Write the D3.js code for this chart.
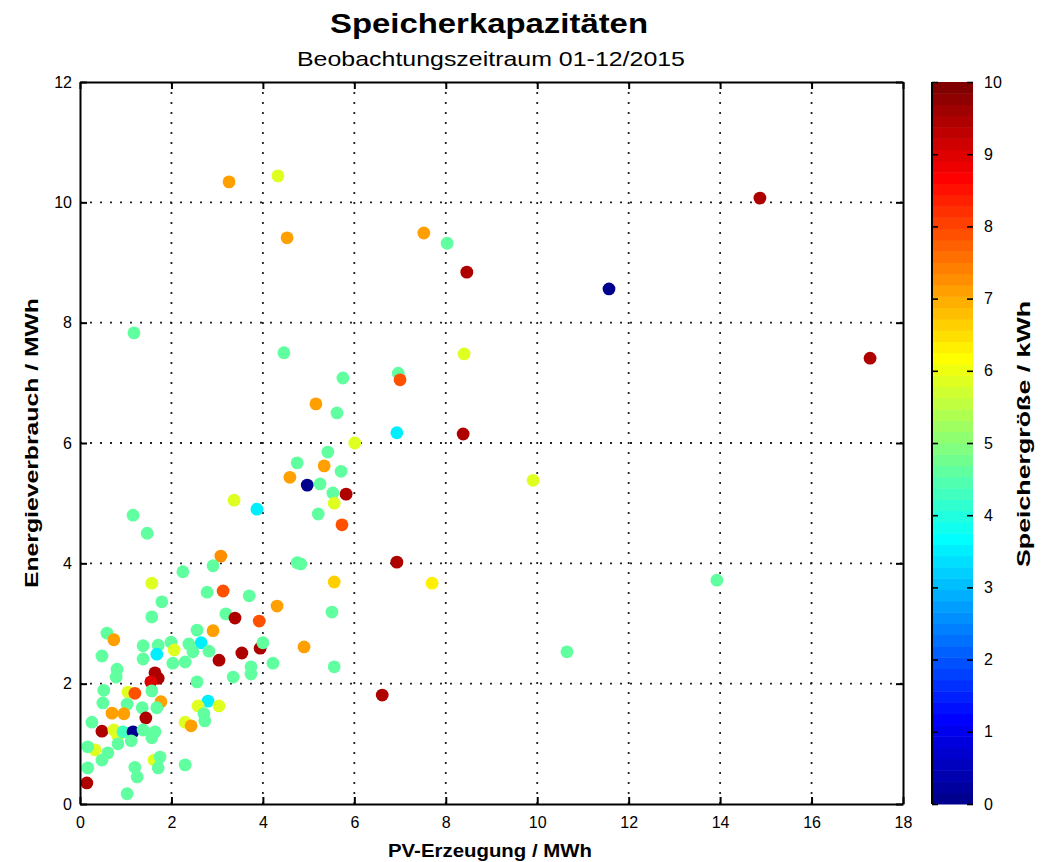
<!DOCTYPE html>
<html>
<head>
<meta charset="utf-8">
<script src="https://cdn.jsdelivr.net/npm/d3@7"></script>
<style>
  body { margin: 0; background: #fff; }
  svg { display: block; }
  text { font-family: "Liberation Sans", Arial, Helvetica, sans-serif; fill: #000; }
</style>
</head>
<body>
<svg id="chart" width="1048" height="862"></svg>
<script>
// PV generation (MWh) per installation
const pvErzeugung = [
  3.26, 4.33, 4.53, 7.52, 8.03, 8.46, 14.87, 11.57, 17.28, 1.18,
  4.46, 8.40, 5.75, 6.96, 7.00, 5.16, 5.62, 6.93, 8.38, 6.01,
  5.42, 4.75, 5.34, 5.71, 4.59, 4.97, 5.25, 5.53, 5.82, 5.56,
  5.21, 5.73, 3.37, 3.87, 4.75, 4.83, 6.93, 3.08, 2.91, 2.25,
  5.56, 5.51, 5.56, 4.90, 6.61, 4.31, 3.13, 2.78, 3.70, 3.19,
  3.39, 3.92, 2.56, 2.91, 2.65, 2.38, 2.47, 2.30, 2.82, 3.04,
  3.54, 3.94, 4.00, 4.22, 3.74, 3.74, 3.35, 2.56, 2.80, 2.58,
  3.04, 2.71, 2.73, 2.30, 2.43, 2.30, 1.57, 1.79, 1.57, 0.59,
  0.74, 0.48, 1.38, 1.71, 1.99, 1.68, 2.06, 1.38, 2.03, 0.81,
  0.79, 1.64, 1.71, 1.55, 0.52, 1.05, 1.20, 1.57, 1.77, 0.50,
  1.03, 0.70, 0.96, 1.36, 1.68, 1.44, 0.26, 0.48, 0.74, 0.83,
  0.94, 1.16, 1.38, 1.64, 1.57, 0.33, 0.17, 0.83, 1.12, 0.61,
  0.48, 0.17, 1.20, 1.25, 1.62, 1.75, 1.71, 0.15, 1.03, 1.16,
  1.47, 10.65, 13.93, 9.91, 7.70
];
// Energy consumption (MWh) per installation
const energieverbrauch = [
  10.34, 10.44, 9.41, 9.49, 9.32, 8.84, 10.07, 8.56, 7.41, 7.83,
  7.50, 7.48, 7.08, 7.16, 7.05, 6.65, 6.50, 6.17, 6.15, 6.00,
  5.85, 5.67, 5.62, 5.53, 5.43, 5.30, 5.32, 5.17, 5.15, 5.00,
  4.82, 4.64, 5.05, 4.90, 4.01, 3.99, 4.02, 4.12, 3.96, 3.86,
  3.69, 3.19, 2.28, 2.61, 1.81, 3.29, 3.54, 3.52, 3.46, 3.16,
  3.09, 3.04, 2.89, 2.88, 2.68, 2.66, 2.53, 2.36, 2.54, 2.39,
  2.51, 2.59, 2.68, 2.34, 2.28, 2.16, 2.11, 2.03, 1.71, 1.63,
  1.63, 1.50, 1.38, 1.36, 1.30, 0.65, 3.67, 3.36, 3.11, 2.84,
  2.73, 2.46, 2.63, 2.64, 2.69, 2.49, 2.56, 2.41, 2.34, 2.24,
  2.11, 2.18, 2.09, 2.03, 1.89, 1.86, 1.84, 1.88, 1.70, 1.68,
  1.66, 1.51, 1.50, 1.60, 1.60, 1.43, 1.36, 1.21, 1.23, 1.13,
  1.20, 1.20, 1.23, 1.20, 1.10, 0.90, 0.95, 1.00, 1.05, 0.85,
  0.73, 0.60, 0.61, 0.45, 0.73, 0.78, 0.60, 0.35, 0.17, 4.80,
  4.50, 2.53, 3.72, 5.38, 3.67
];
// Storage size (kWh), drives the marker colour
const speichergroesse = [
  7.1, 5.9, 7.1, 7.1, 4.6, 9.45, 9.45, 0.0, 9.45, 4.6,
  4.6, 5.9, 4.6, 4.6, 7.9, 7.1, 4.6, 3.5, 9.45, 5.9,
  4.6, 4.6, 7.1, 4.6, 7.1, 0.0, 4.6, 4.6, 9.45, 5.9,
  4.6, 7.9, 5.9, 3.5, 4.6, 4.6, 9.45, 7.2, 4.6, 4.6,
  6.6, 4.6, 4.6, 7.1, 9.45, 7.1, 7.9, 4.6, 4.6, 4.6,
  9.45, 7.9, 4.6, 7.1, 3.5, 4.6, 4.6, 4.6, 4.6, 9.45,
  9.45, 9.45, 4.6, 4.6, 4.6, 4.6, 4.6, 4.6, 3.5, 5.9,
  5.9, 4.6, 4.6, 5.9, 7.1, 4.6, 5.9, 4.6, 4.6, 4.6,
  7.1, 4.6, 4.6, 4.6, 4.6, 3.5, 5.9, 4.6, 4.6, 4.6,
  4.6, 9.45, 9.45, 9.0, 4.6, 5.9, 7.9, 4.6, 7.1, 4.6,
  4.6, 7.1, 7.1, 4.6, 4.6, 9.45, 4.6, 9.45, 5.9, 5.9,
  4.3, 0.0, 4.6, 4.6, 4.6, 5.9, 4.6, 4.6, 4.6, 4.6,
  4.6, 4.6, 4.6, 4.6, 5.9, 4.6, 4.6, 9.45, 4.6, 4.6,
  4.6, 4.6, 4.6, 5.9, 6.3
];

const xTicks = [0, 2, 4, 6, 8, 10, 12, 14, 16, 18];
const yTicks = [0, 2, 4, 6, 8, 10, 12];
const cTicks = [0, 1, 2, 3, 4, 5, 6, 7, 8, 9, 10];

const titleText = "Speicherkapazitäten";
const subtitleText = "Beobachtungszeitraum 01-12/2015";
const xLabelText = "PV-Erzeugung / MWh";
const yLabelText = "Energieverbrauch / MWh";
const cLabelText = "Speichergröße / kWh";

// 64-step jet colormap
function jetPalette(n) {
  const m = Math.ceil(n / 4);
  const u = [];
  for (let i = 1; i <= m; i++) u.push(i / m);
  for (let i = 1; i < m; i++) u.push(1);
  for (let i = m; i >= 1; i--) u.push(i / m);
  const off = Math.ceil(m / 2) - (n % 4 === 1 ? 1 : 0);
  const pal = [];
  for (let k = 1; k <= n; k++) {
    const gi = k - off, ri = gi - m, bi = gi + m;
    const val = idx => (idx >= 1 && idx <= u.length) ? u[idx - 1] : 0;
    pal.push(d3.rgb(val(ri) * 255, val(gi) * 255, val(bi) * 255).toString());
  }
  return pal;
}
const palette = jetPalette(64);
const cDomain = [0, 10];
const colour = v => {
  const k = Math.max(0, Math.min(63, Math.floor((v - cDomain[0]) / (cDomain[1] - cDomain[0]) * 64)));
  return palette[k];
};

const svg = d3.select("#chart");
const plotL = 80, plotR = 903, plotT = 82, plotB = 804;
const x = d3.scaleLinear().domain([0, 18]).range([plotL, plotR]);
const y = d3.scaleLinear().domain([0, 12]).range([plotB, plotT]);

// dotted grid
const grid = svg.append("g").attr("stroke", "#222").attr("stroke-width", 1.8).attr("stroke-dasharray", "2,8");
grid.selectAll(".gx").data(xTicks.slice(1, -1)).join("line")
  .attr("x1", d => x(d)).attr("x2", d => x(d)).attr("y1", plotB).attr("y2", plotT);
grid.selectAll(".gy").data(yTicks.slice(1, -1)).join("line")
  .attr("y1", d => y(d)).attr("y2", d => y(d)).attr("x1", plotL).attr("x2", plotR);

// scatter markers
const pts = pvErzeugung.map((d, i) => ({ x: d, y: energieverbrauch[i], c: speichergroesse[i] }));
svg.append("g").selectAll("circle").data(pts).join("circle")
  .attr("cx", d => x(d.x)).attr("cy", d => y(d.y)).attr("r", 6.4)
  .attr("fill", d => colour(d.c));

// axes with inward ticks on all four sides
const tickLen = 7;
const axStyle = g => {
  g.selectAll(".domain").attr("stroke", "#000").attr("stroke-width", 2);
  g.selectAll(".tick line").attr("stroke", "#000").attr("stroke-width", 2);
  g.selectAll("text").style("font-size", "16px").attr("fill", "#000");
};
svg.append("g").attr("transform", `translate(0,${plotB})`)
  .call(d3.axisBottom(x).tickValues(xTicks).tickSize(-tickLen).tickSizeOuter(0).tickPadding(13).tickFormat(d3.format("d")))
  .call(axStyle);
svg.append("g").attr("transform", `translate(0,${plotT})`)
  .call(d3.axisTop(x).tickValues(xTicks).tickSize(-tickLen).tickSizeOuter(0).tickFormat(""))
  .call(axStyle);
svg.append("g").attr("transform", `translate(${plotL},0)`)
  .call(d3.axisLeft(y).tickValues(yTicks).tickSize(-tickLen).tickSizeOuter(0).tickPadding(8).tickFormat(d3.format("d")))
  .call(axStyle);
svg.append("g").attr("transform", `translate(${plotR},0)`)
  .call(d3.axisRight(y).tickValues(yTicks).tickSize(-tickLen).tickSizeOuter(0).tickFormat(""))
  .call(axStyle);

// titles and axis labels (stretched to the wide rendering of the original figure font)
svg.append("text").attr("x", 489).attr("y", 33).attr("text-anchor", "middle")
  .attr("textLength", 318).attr("lengthAdjust", "spacingAndGlyphs")
  .style("font-size", "28px").style("font-weight", "bold").text(titleText);
svg.append("text").attr("x", 491).attr("y", 66).attr("text-anchor", "middle")
  .attr("textLength", 388).attr("lengthAdjust", "spacingAndGlyphs")
  .style("font-size", "21px").text(subtitleText);
svg.append("text").attr("x", 490).attr("y", 857).attr("text-anchor", "middle")
  .attr("textLength", 204).attr("lengthAdjust", "spacingAndGlyphs")
  .style("font-size", "19px").style("font-weight", "bold").text(xLabelText);
svg.append("text").attr("transform", `translate(38,443) rotate(-90)`).attr("text-anchor", "middle")
  .attr("textLength", 290).attr("lengthAdjust", "spacingAndGlyphs")
  .style("font-size", "19px").style("font-weight", "bold").text(yLabelText);

// colour bar
const cbX = 932, cbW = 41;
const cy = d3.scaleLinear().domain(cDomain).range([plotB, plotT]);
const cb = svg.append("g");
cb.selectAll("rect").data(palette).join("rect")
  .attr("x", cbX).attr("width", cbW)
  .attr("y", (d, i) => cy(cDomain[0] + (i + 1) * (cDomain[1] - cDomain[0]) / 64))
  .attr("height", (d, i) => cy(cDomain[0] + i * (cDomain[1] - cDomain[0]) / 64) - cy(cDomain[0] + (i + 1) * (cDomain[1] - cDomain[0]) / 64) + 0.5)
  .attr("fill", d => d);
cb.append("line").attr("x1", cbX).attr("x2", cbX).attr("y1", plotT).attr("y2", plotB)
  .attr("stroke", "#000").attr("stroke-width", 2);
cb.append("g").attr("transform", `translate(${cbX},0)`)
  .call(d3.axisLeft(cy).tickValues(cTicks).tickSize(-6).tickSizeOuter(0).tickFormat(""))
  .call(g => { g.select(".domain").remove(); g.selectAll(".tick line").attr("stroke", "#000").attr("stroke-width", 1.6); });
cb.append("g").attr("transform", `translate(${cbX + cbW},0)`)
  .call(d3.axisRight(cy).tickValues(cTicks).tickSize(-6).tickSizeOuter(0).tickPadding(11).tickFormat(d3.format("d")))
  .call(g => {
    g.select(".domain").remove();
    g.selectAll(".tick line").attr("stroke", "#000").attr("stroke-width", 1.6);
    g.selectAll("text").style("font-size", "16px").attr("fill", "#000");
  });
svg.append("text").attr("transform", `translate(1030,434) rotate(-90)`).attr("text-anchor", "middle")
  .attr("textLength", 266).attr("lengthAdjust", "spacingAndGlyphs")
  .style("font-size", "19px").style("font-weight", "bold").text(cLabelText);
</script>
</body>
</html>
